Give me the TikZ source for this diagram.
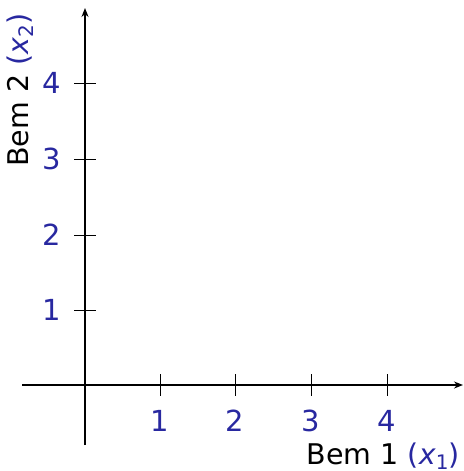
\documentclass[tikz,border=0pt]{standalone}
\usepackage{fontspec}
\setmainfont{DejaVu Sans}
\usetikzlibrary{arrows.meta}
\definecolor{numblue}{RGB}{40,40,160}
\newcommand{\subsc}[1]{\raisebox{-0.2em}{\fontsize{20}{20}\selectfont #1}}
\begin{document}
\begin{tikzpicture}[x=1pt,y=-1pt,
  axis/.style={line width=2pt,-{Stealth[length=9pt,width=7pt,inset=3pt]}},
  tick/.style={line width=1pt},
  num/.style={text=numblue,font=\fontsize{29}{34}\selectfont,inner sep=0pt},
  lab/.style={font=\fontsize{28.5}{34}\selectfont,inner sep=0pt}]
\useasboundingbox (0,0) rectangle (463,471);
\coordinate (xs) at (22,385);
\coordinate (xe) at (463,385);
\coordinate (ys) at (85,445);
\coordinate (ye) at (85,8);
\draw[axis] (xs) -- (xe);
\draw[axis] (ys) -- (ye);
\foreach \i/\p in {1/160,2/235,3/311,4/387}{
  \draw[tick] (\p,374) -- (\p,396);
  \node[num] (xl\i) at (\p,420.5) {\i};
}
\foreach \i/\p in {1/310,2/235,3/159,4/83}{
  \draw[tick] (74,\p) -- (96,\p);
  \node[num] (yl\i) at (51.5,\p) {\i};
}
\node[lab,anchor=base east] (xlab) at (460,464) {Bem 1 \textcolor{numblue}{(\textit{x}\subsc{1})}};
\node[lab,rotate=90,anchor=base] (ylab) at (28,90) {Bem 2 \textcolor{numblue}{(\textit{x}\subsc{2})}};
\end{tikzpicture}
\end{document}
